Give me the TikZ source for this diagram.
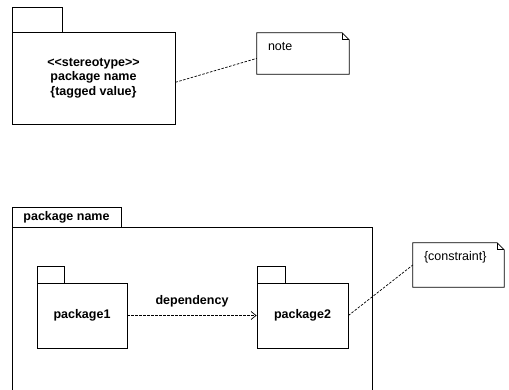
\documentclass[tikz,border=0pt]{standalone}
\usepackage{fontspec}
\setmainfont{Liberation Sans}
\usetikzlibrary{calc,arrows.meta}
\begin{document}
\begin{tikzpicture}[x=1pt,y=-1pt,
  every node/.style={font=\fontsize{12.5}{14.5}\selectfont},
  pkgbox/.style={draw, line width=0.8pt, rectangle, inner sep=0pt, font=\fontsize{12.5}{14.5}\selectfont\bfseries, align=center},
  notebox/.style={rectangle, inner sep=0pt},
  notetext/.style={anchor=west, inner sep=0pt, font=\fontsize{12.5}{14.5}\selectfont},
  link/.style={line width=0.7pt, dash pattern=on 2.5pt off 1.5pt},
  edge/.style={line width=0.8pt}
]
\useasboundingbox (0,0) rectangle (509,389);
\clip (0,0) rectangle (509,389);

% ---- top package ----
\node[pkgbox, minimum width=50pt, minimum height=25pt] (toptab) at (37,19.5) {};
\node[pkgbox, minimum width=163pt, minimum height=92pt] (top) at (93.5,78)
  {<{}<stereotype>{}>\\package name\\\{tagged value\}};

% note 1
\node[notebox, minimum width=92pt, minimum height=41pt] (note1) at (303,53.5) {};
\draw[edge] (note1.north west) -- ($(note1.north east)+(-7,0)$) -- ($(note1.north east)+(0,7)$)
  -- (note1.south east) -- (note1.south west) -- cycle;
\draw[edge] ($(note1.north east)+(-7,0)$) -- ++(0,7) -- ($(note1.north east)+(0,7)$);
\node[notetext] (note1t) at ($(note1.north west)+(11,14)$) {note};
\draw[link] (top.-3) -- (note1.186);

% ---- bottom container package ----
\node[pkgbox, minimum width=109pt, minimum height=20pt] (outertab) at (66.5,217) {package name};
\node[pkgbox, minimum width=360pt, minimum height=200pt] (outer) at (192,327) {};

% package1
\node[pkgbox, minimum width=27pt, minimum height=17pt] (p1tab) at (50.5,274.5) {};
\node[pkgbox, minimum width=90pt, minimum height=65pt] (p1) at (82,315.5) {package1};

% package2
\node[pkgbox, minimum width=28pt, minimum height=17pt] (p2tab) at (271,274.5) {};
\node[pkgbox, minimum width=91pt, minimum height=65pt] (p2) at (302.5,315.5) {package2};

\draw[link, -{Straight Barb[length=5pt,width=8pt]}] (p1.east) -- (p2.west)
  node[midway, yshift=14pt, font=\fontsize{12.5}{14.5}\selectfont\bfseries] (deplabel) {dependency};

% constraint note
\node[notebox, minimum width=91pt, minimum height=44pt] (note2) at (458.5,265) {};
\draw[edge] (note2.north west) -- ($(note2.north east)+(-7,0)$) -- ($(note2.north east)+(0,7)$)
  -- (note2.south east) -- (note2.south west) -- cycle;
\draw[edge] ($(note2.north east)+(-7,0)$) -- ++(0,7) -- ($(note2.north east)+(0,7)$);
\node[notetext] (note2t) at ($(note2.north west)+(11,14)$) {\{constraint\}};
\draw[link] (p2.east) -- (note2.west);
\end{tikzpicture}
\end{document}
